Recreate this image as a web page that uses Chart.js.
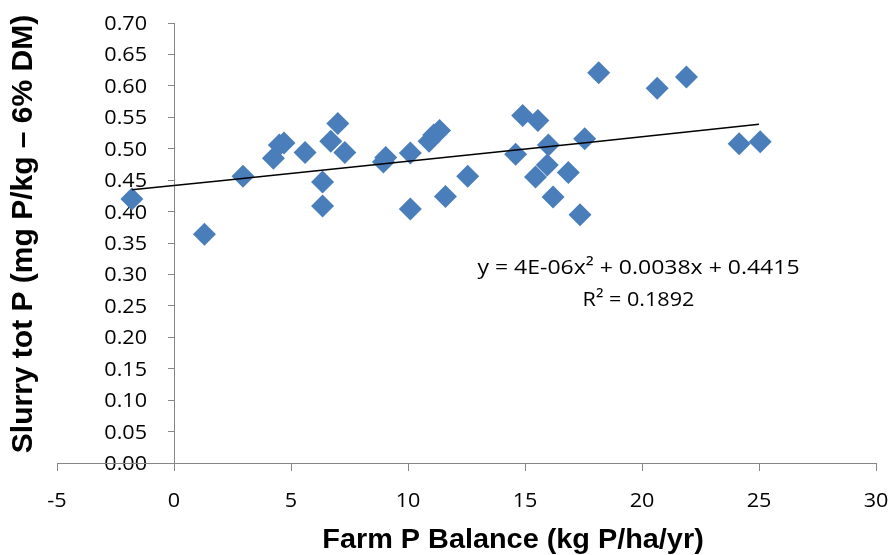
<!DOCTYPE html>
<html lang="en">
<head>
  <meta charset="UTF-8">
  <title>Slurry tot P vs Farm P Balance</title>
  <script src="https://cdn.jsdelivr.net/npm/chart.js"></script>
  <style>
    html, body { margin: 0; padding: 0; background: #fff; }
    #wrap { width: 893px; height: 555px; }
  </style>
</head>
<body>
  <div id="wrap"><canvas id="chart"></canvas></div>

  <script>
    // farm P balance (kg P/ha/yr)
    const pX = [-1.8, 1.3, 2.95, 4.25, 4.5, 4.7, 5.6, 6.35, 6.35, 6.7, 7.0, 7.3,
                8.95, 9.05, 10.1, 10.1, 10.9, 11.1, 11.35, 11.6, 12.55,
                14.6, 14.9, 15.45, 15.55, 15.95, 16.0, 16.2, 16.85, 17.35, 17.55,
                18.15, 20.65, 21.9, 24.15, 25.05];
    // slurry tot P (mg P/kg - 6% DM)
    const pY = [0.420, 0.364, 0.456, 0.485, 0.506, 0.509, 0.494, 0.447, 0.409, 0.512, 0.540, 0.494,
                0.479, 0.486, 0.493, 0.404, 0.512, 0.522, 0.529, 0.424, 0.456,
                0.491, 0.553, 0.455, 0.545, 0.474, 0.506, 0.423, 0.462, 0.395, 0.516,
                0.621, 0.596, 0.614, 0.508, 0.511];

    // polynomial trendline printed on the chart
    const trendCoef = [4e-6, 0.0038, 0.4415];
    const trendX = [-1.8, 2, 6, 10, 14, 18, 22, 25];
    const eqText = "y = 4E-06x\u00B2 + 0.0038x + 0.4415";
    const r2Text = "R\u00B2 = 0.1892";

    const xTicks = [-5, 0, 5, 10, 15, 20, 25, 30];
    const yMin = 0, yMax = 0.7, yStep = 0.05;

    const points = pX.map((x, i) => ({ x: x, y: pY[i] }));
    const trend = trendX.map(x => ({ x: x, y: trendCoef[0] * x * x + trendCoef[1] * x + trendCoef[2] }));

    const axisGrey = "#868686";
    const tickFont = "20px 'Open Sans', 'Liberation Sans', sans-serif";
    const titleFamily = "'Liberation Sans', Arial, sans-serif";

    // labels in the original come out a little wide, so stretch them horizontally
    function wideText(c, txt, x, y, align, sx) {
      c.save();
      c.translate(x, y);
      c.scale(sx, 1);
      c.textAlign = align;
      c.fillText(txt, 0, 0);
      c.restore();
    }

    const labels = {
      id: "labels",
      beforeDraw(chart) {
        const c = chart.ctx;
        const xs = chart.scales.x, ys = chart.scales.y;
        const area = chart.chartArea;
        const x0 = xs.getPixelForValue(0);
        c.save();
        c.fillStyle = "#000";
        c.textBaseline = "alphabetic";

        // tick labels
        c.font = tickFont;
        ys.ticks.forEach(t => {
          wideText(c, t.value.toFixed(2), x0 - 27, ys.getPixelForValue(t.value) + 7, "right", 1.08);
        });
        xTicks.forEach(v => {
          wideText(c, String(v), xs.getPixelForValue(v), area.bottom + 44, "center", 1.08);
        });

        // trendline equation
        wideText(c, eqText, xs.getPixelForValue(19.85), ys.getPixelForValue(0.3007), "center", 1.15);
        wideText(c, r2Text, xs.getPixelForValue(19.85), ys.getPixelForValue(0.2491), "center", 1.08);

        // axis titles
        c.font = "bold 28px " + titleFamily;
        wideText(c, "Farm P Balance (kg P/ha/yr)", 513, 548, "center", 1.03);
        c.font = "bold 30px " + titleFamily;
        c.translate(32, 234);
        c.rotate(-Math.PI / 2);
        c.textAlign = "center";
        c.fillText("Slurry tot P (mg P/kg \u2013 6% DM)", 0, 0);
        c.restore();
      }
    };

    new Chart(document.getElementById("chart"), {
      type: "scatter",
      data: {
        datasets: [
          {
            label: "data",
            data: points,
            pointStyle: "rectRot",
            pointRadius: 11.5,
            pointHoverRadius: 11.5,
            backgroundColor: "#4A7EBB",
            borderColor: "#4A7EBB",
            borderWidth: 0,
            order: 2
          },
          {
            label: "trend",
            type: "line",
            data: trend,
            borderColor: "#000",
            borderWidth: 1.5,
            pointRadius: 0,
            fill: false,
            tension: 0,
            order: 1
          }
        ]
      },
      options: {
        responsive: true,
        maintainAspectRatio: false,
        animation: false,
        layout: { padding: { left: 57, right: 17, top: 23, bottom: 84 } },
        plugins: {
          legend: { display: false },
          tooltip: { enabled: false }
        },
        scales: {
          x: {
            type: "linear",
            position: "bottom",
            min: -5,
            max: 30,
            afterBuildTicks: s => { s.ticks = xTicks.map(v => ({ value: v })); },
            grid: { display: true, drawOnChartArea: false, tickLength: 8, color: axisGrey },
            border: { color: axisGrey, width: 1 },
            ticks: { display: false }
          },
          y: {
            type: "linear",
            position: { x: 0 },
            min: yMin,
            max: yMax,
            ticks: { stepSize: yStep, display: false },
            grid: { display: true, drawOnChartArea: false, tickLength: 6, color: axisGrey },
            border: { color: axisGrey, width: 1 }
          }
        }
      },
      plugins: [labels]
    });
  </script>
</body>
</html>
